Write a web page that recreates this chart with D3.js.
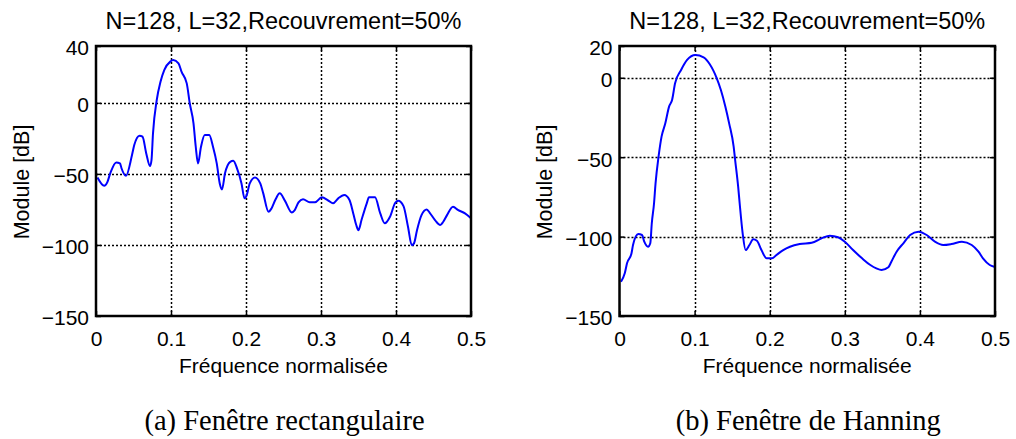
<!DOCTYPE html>
<html>
<head>
<meta charset="utf-8">
<script src="https://cdn.jsdelivr.net/npm/d3@7"></script>
<style>
  body { margin: 0; background: #fff; }
  svg text { font-family: Arial, "Liberation Sans", sans-serif; fill: #000; }
</style>
</head>
<body>
<div id="chart"></div>
<script>
// (a) rectangular window spectrum
const rectFreq = [0.002, 0.011, 0.015, 0.019, 0.027, 0.032, 0.034, 0.040, 0.048, 0.051,
    0.058, 0.062, 0.067, 0.072, 0.074, 0.076, 0.081, 0.086, 0.091, 0.099,
    0.103, 0.110, 0.114, 0.121, 0.125, 0.130, 0.133, 0.136, 0.140, 0.145,
    0.151, 0.156, 0.161, 0.165, 0.168, 0.172, 0.179, 0.183, 0.188, 0.194,
    0.198, 0.201, 0.205, 0.212, 0.219, 0.223, 0.230, 0.234, 0.239, 0.245,
    0.252, 0.261, 0.265, 0.270, 0.276, 0.285, 0.292, 0.301, 0.310, 0.316,
    0.323, 0.331, 0.338, 0.343, 0.347, 0.350, 0.354, 0.361, 0.364, 0.372,
    0.379, 0.385, 0.392, 0.399, 0.403, 0.410, 0.416, 0.421, 0.424, 0.428,
    0.434, 0.441, 0.445, 0.452, 0.459, 0.463, 0.468, 0.476, 0.483, 0.492, 0.500];
const rectDb = [-52.5, -58.4, -56, -49.6, -41.9, -42.6, -46, -51.3, -36.7, -29.7,
    -23.1, -23.8, -35.6, -44.5, -40.3, -21.5, 2, 14.9, 23.1, 29,
    30.1, 27.8, 21.9, 13.7, -0.3, -14.4, -30.9, -42.6, -30.9, -22.7,
    -22.7, -30.9, -42.6, -56.7, -60.9, -49.6, -41.5, -40.8, -46.1, -56.7,
    -67.2, -64.9, -56.7, -52.5, -56.7, -63.7, -76.6, -74.3, -68.4, -63.7,
    -69, -77.1, -75.5, -70, -67.8, -70, -70, -66.5, -68.9, -70.7,
    -67.2, -64.9, -68.4, -77.8, -86, -89.6, -82.5, -70.7, -66.5, -66.5,
    -77.8, -84.8, -80.2, -70.3, -68.9, -72.7, -87.2, -100.2, -98.9, -89.6,
    -79, -75, -77.4, -82.5, -86, -83.7, -79, -73.1, -75.5, -77.8, -81.3];

// (b) Hanning window spectrum
const hannFreq = [0.002, 0.007, 0.010, 0.016, 0.018, 0.025, 0.030, 0.033, 0.038, 0.041,
    0.043, 0.046, 0.048, 0.052, 0.056, 0.061, 0.066, 0.070, 0.074, 0.082,
    0.090, 0.101, 0.112, 0.120, 0.125, 0.129, 0.135, 0.141, 0.146, 0.152,
    0.154, 0.158, 0.160, 0.164, 0.168, 0.173, 0.178, 0.183, 0.189, 0.196,
    0.203, 0.209, 0.218, 0.227, 0.240, 0.256, 0.269, 0.280, 0.291, 0.300,
    0.311, 0.323, 0.334, 0.342, 0.349, 0.358, 0.362, 0.369, 0.378, 0.387,
    0.398, 0.409, 0.420, 0.431, 0.442, 0.456, 0.469, 0.478, 0.484, 0.493, 0.499];
const hannDb = [-128.4, -123.1, -116.8, -110.5, -105.3, -98.4, -99, -103.2, -106.4, -104.2,
    -91.6, -79, -66.5, -49.7, -37.1, -28.7, -18.2, -14, -3.5, 4.9,
    11.2, 14.3, 12.9, 8.7, 4.5, 0.3, -7.7, -18.2, -28.7, -43.4,
    -51.8, -68.6, -79, -97.9, -108.5, -105.3, -101.7, -102.6, -108.5, -113.7,
    -113.7, -111.6, -108.5, -106.4, -104.7, -103.9, -101.1, -99.4, -100.4, -103.2,
    -108.5, -113.7, -117.9, -120, -121, -119.3, -115.8, -109.5, -104.2, -99,
    -96.9, -99, -103.2, -105.3, -104.7, -103.2, -105.3, -109.5, -113.7, -117.9, -119];

const xTicks = [0, 0.1, 0.2, 0.3, 0.4, 0.5];
const rectYTicks = [40, 0, -50, -100, -150];
const hannYTicks = [20, 0, -50, -100, -150];

const titleText = "N=128, L=32,Recouvrement=50%";
const xLabelText = "Fréquence normalisée";
const yLabelText = "Module [dB]";

const width = 1016, height = 439;
const plotTop = 46, plotBottom = 316;

const svg = d3.select("#chart").append("svg")
    .attr("width", width)
    .attr("height", height);

function drawPanel(opts) {
    const x = d3.scaleLinear().domain([0, 0.5]).range([opts.left, opts.right]);
    const y = d3.scaleLinear().domain([-150, opts.yMax]).range([plotBottom, plotTop]);
    const g = svg.append("g");

    // dotted grid
    g.selectAll(".vgrid")
        .data(xTicks.slice(1, -1))
        .enter().append("line")
        .attr("x1", d => Math.round(x(d)) + 0.5).attr("x2", d => Math.round(x(d)) + 0.5)
        .attr("y1", plotTop).attr("y2", plotBottom)
        .style("stroke", "#000")
        .style("stroke-width", 1.5)
        .style("stroke-dasharray", "2,2");
    g.selectAll(".hgrid")
        .data(opts.yTicks.slice(1, -1))
        .enter().append("line")
        .attr("x1", opts.left).attr("x2", opts.right)
        .attr("y1", d => Math.round(y(d)) + 0.5).attr("y2", d => Math.round(y(d)) + 0.5)
        .style("stroke", "#000")
        .style("stroke-width", 1.5)
        .style("stroke-dasharray", "2,2");

    // curve
    const line = d3.line()
        .x((d, i) => x(opts.freq[i]))
        .y(d => y(d))
        .curve(d3.curveMonotoneX);
    g.append("path")
        .datum(opts.db)
        .attr("fill", "none")
        .attr("stroke", "#0000ff")
        .attr("stroke-width", 2)
        .attr("d", line);

    // axes, ticks pointing inward
    const xAxis = g.append("g")
        .attr("transform", `translate(0,${plotBottom})`)
        .call(d3.axisBottom(x).tickValues(xTicks).tickFormat(d3.format("")).tickSizeInner(-5).tickSizeOuter(0).tickPadding(15));
    const yAxis = g.append("g")
        .attr("transform", `translate(${opts.left},0)`)
        .call(d3.axisLeft(y).tickValues(opts.yTicks).tickSizeInner(-5).tickSizeOuter(0).tickPadding(7));
    g.append("g")
        .attr("transform", `translate(0,${plotTop})`)
        .call(d3.axisTop(x).tickValues(xTicks).tickFormat("").tickSizeInner(-5).tickSizeOuter(0));
    g.append("g")
        .attr("transform", `translate(${opts.right},0)`)
        .call(d3.axisRight(y).tickValues(opts.yTicks).tickFormat("").tickSizeInner(-5).tickSizeOuter(0));

    g.selectAll(".domain").remove();
    g.selectAll(".tick line").attr("stroke", "#000").attr("stroke-width", 1.5);
    xAxis.selectAll("text").style("font-size", "21px").attr("dy", "0.71em");
    yAxis.selectAll("text").style("font-size", "21px").attr("dy", "0.42em");

    // box
    g.append("rect")
        .attr("x", opts.left).attr("y", plotTop)
        .attr("width", opts.right - opts.left)
        .attr("height", plotBottom - plotTop)
        .attr("fill", "none")
        .attr("stroke", "#000")
        .attr("stroke-width", 2.5);

    const cx = (opts.left + opts.right) / 2;
    g.append("text")
        .attr("x", cx).attr("y", 29)
        .attr("text-anchor", "middle")
        .style("font-size", "23.5px")
        .text(titleText);
    g.append("text")
        .attr("x", cx).attr("y", 373)
        .attr("text-anchor", "middle")
        .style("font-size", "21px")
        .text(xLabelText);
    g.append("text")
        .attr("transform", `translate(${opts.yLabelX},182) rotate(-90)`)
        .attr("text-anchor", "middle")
        .style("font-size", "21.5px")
        .text(yLabelText);
    g.append("text")
        .attr("x", cx + 1).attr("y", 430)
        .attr("text-anchor", "middle")
        .style("font-family", "'Liberation Serif', 'Times New Roman', serif")
        .style("font-size", "28.5px")
        .text(opts.caption);
}

drawPanel({left: 96, right: 471, yMax: 40, yTicks: rectYTicks, freq: rectFreq, db: rectDb,
    yLabelX: 29, caption: "(a) Fenêtre rectangulaire"});
drawPanel({left: 619.5, right: 995, yMax: 20, yTicks: hannYTicks, freq: hannFreq, db: hannDb,
    yLabelX: 552, caption: "(b) Fenêtre de Hanning"});
</script>
</body>
</html>
